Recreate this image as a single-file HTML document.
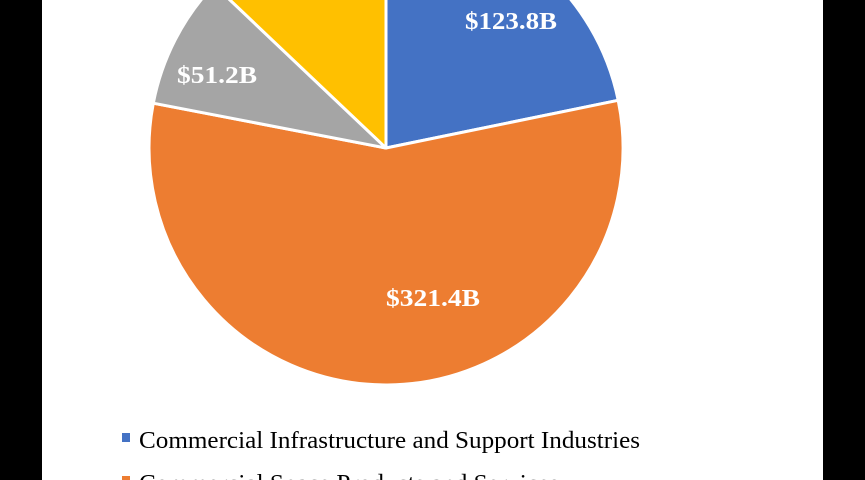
<!DOCTYPE html>
<html><head><style>
html,body{margin:0;padding:0;background:#000;}
body{width:865px;height:480px;overflow:hidden;position:relative;}
</style></head><body>
<svg width="865" height="480" xmlns="http://www.w3.org/2000/svg" style="position:absolute;left:0;top:0">
<rect x="0" y="0" width="865" height="480" fill="#000"/>
<rect x="42" y="0" width="781" height="480" fill="#fff"/>
<g stroke="#fff" stroke-width="3" stroke-linejoin="round">
<path d="M386,148 L386,-89 A237,237 0 0 1 618.2,100.3 Z" fill="#4472C4"/>
<path d="M386,148 L618.2,100.3 A237,237 0 1 1 153.3,103.2 Z" fill="#ED7D31"/>
<path d="M386,148 L153.3,103.2 A237,237 0 0 1 214.1,-15.1 Z" fill="#A5A5A5"/>
<path d="M386,148 L214.1,-15.1 A237,237 0 0 1 386,-89 Z" fill="#FFC000"/>
</g>
<g font-family="Liberation Serif, serif" font-weight="bold" font-size="22" fill="#fff">
<text transform="translate(465,29) scale(1,1.12)" textLength="92" lengthAdjust="spacingAndGlyphs">$123.8B</text>
<text transform="translate(177,83) scale(1,1.12)" textLength="80" lengthAdjust="spacingAndGlyphs">$51.2B</text>
<text transform="translate(386,306) scale(1,1.12)" textLength="94" lengthAdjust="spacingAndGlyphs">$321.4B</text>
</g>
<rect x="122" y="433" width="8" height="9" fill="#4472C4"/>
<text transform="translate(139,448) scale(1,1.12)" font-family="Liberation Serif, serif" font-size="22" fill="#000" textLength="501" lengthAdjust="spacingAndGlyphs">Commercial Infrastructure and Support Industries</text>
<rect x="122" y="476" width="8" height="9" fill="#ED7D31"/>
<text transform="translate(139,491) scale(1,1.12)" font-family="Liberation Serif, serif" font-size="22" fill="#000" textLength="420" lengthAdjust="spacingAndGlyphs">Commercial Space Products and Services</text>
</svg>
</body></html>
